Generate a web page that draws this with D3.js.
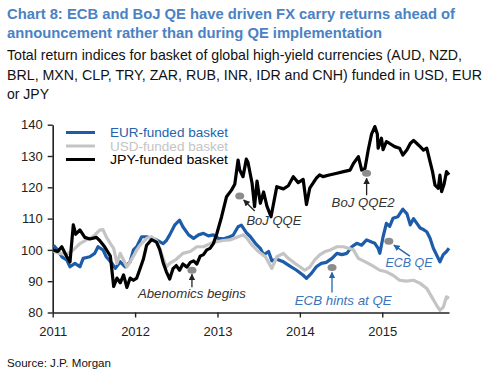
<!DOCTYPE html>
<html><head><meta charset="utf-8">
<script src="https://cdn.jsdelivr.net/npm/d3@7"></script>
<style>
html,body{margin:0;padding:0;background:#fff;}
svg{display:block;font-family:"Liberation Sans",Arial,sans-serif;}
</style></head>
<body><svg id="c" width="488" height="373"></svg>
<script>
const titleLines = ["Chart 8: ECB and BoJ QE have driven FX carry returns ahead of","announcement rather than during QE implementation"];
const subtitleLines = ["Total return indices for basket of global high-yield currencies (AUD, NZD,","BRL, MXN, CLP, TRY, ZAR, RUB, INR, IDR and CNH) funded in USD, EUR","or JPY"];
const seriesNames = ["EUR-funded basket","USD-funded basket","JPY-funded basket"];
const xTicks = [2011,2012,2013,2014,2015];
const yTicks = [80,90,100,110,120,130,140];
const source = "Source: J.P. Morgan";

const eurData = [[2011.01,101.5],[2011.06,100],[2011.11,97.8],[2011.17,96.8],[2011.21,94.6],[2011.27,95.7],[2011.33,94.6],[2011.37,97.3],[2011.45,97.8],[2011.51,98.9],[2011.55,101],[2011.61,100],[2011.65,97.8],[2011.72,95.7],[2011.76,94.1],[2011.82,96.2],[2011.88,94.6],[2011.94,96.2],[2011.98,100],[2012.02,101],[2012.08,104.2],[2012.14,104.2],[2012.20,103.7],[2012.26,103.2],[2012.34,102],[2012.38,103],[2012.42,104.8],[2012.48,107.9],[2012.54,109.5],[2012.58,107.4],[2012.65,104.8],[2012.71,103.7],[2012.77,104.8],[2012.83,105.3],[2012.89,104.5],[2012.95,104.8],[2013.01,103.7],[2013.07,103.5],[2013.13,104],[2013.19,104.7],[2013.25,107.4],[2013.29,107.9],[2013.35,105.5],[2013.40,104.2],[2013.46,102.1],[2013.52,100.5],[2013.56,98.4],[2013.62,99.5],[2013.66,96.5],[2013.72,97],[2013.80,96.2],[2013.88,94.8],[2013.96,93.5],[2014.04,91.9],[2014.08,90.9],[2014.14,92.5],[2014.20,94.6],[2014.26,95.7],[2014.32,96],[2014.39,97.3],[2014.45,98.9],[2014.51,98.5],[2014.57,98.9],[2014.63,101],[2014.69,102.1],[2014.75,101.5],[2014.81,103.2],[2014.87,102.5],[2014.91,102.1],[2014.95,100.5],[2014.97,98.9],[2015.01,104.2],[2015.05,108.5],[2015.09,107.5],[2015.13,110.1],[2015.19,110.6],[2015.25,113],[2015.30,111.5],[2015.34,108],[2015.38,110],[2015.42,108.5],[2015.46,107],[2015.50,106.5],[2015.54,105.8],[2015.58,103.7],[2015.62,100.5],[2015.66,98.4],[2015.70,96.2],[2015.74,98.5],[2015.78,99.5],[2015.81,100.5]];

const usdData = [[2011.01,99.5],[2011.09,98.9],[2011.17,98.5],[2011.25,100],[2011.33,102],[2011.41,103.2],[2011.49,104.2],[2011.57,106.3],[2011.61,106.5],[2011.65,104.2],[2011.70,102],[2011.74,100.5],[2011.78,95.7],[2011.82,98.9],[2011.86,96.8],[2011.90,94.6],[2011.94,96.2],[2011.98,98],[2012.02,100],[2012.06,101.5],[2012.14,103.7],[2012.20,104.2],[2012.26,103],[2012.30,100.5],[2012.34,97.3],[2012.38,94.6],[2012.42,95.7],[2012.50,97],[2012.58,98.9],[2012.67,99.5],[2012.75,101],[2012.83,101],[2012.91,102],[2012.99,102.6],[2013.07,103],[2013.15,103.2],[2013.23,104],[2013.31,104.8],[2013.35,104],[2013.42,101.5],[2013.50,99.4],[2013.58,97.9],[2013.66,94.1],[2013.72,97.8],[2013.80,98.9],[2013.86,97.3],[2013.94,95.7],[2014.00,94.6],[2014.06,93.5],[2014.12,94.5],[2014.18,96.8],[2014.24,98.4],[2014.30,99.4],[2014.37,100],[2014.45,101],[2014.53,101],[2014.59,100.5],[2014.65,100],[2014.71,97.3],[2014.77,96.5],[2014.83,95.7],[2014.89,94.8],[2014.97,93.5],[2015.05,93],[2015.13,91.9],[2015.21,90.3],[2015.29,90],[2015.38,90.3],[2015.46,89.3],[2015.54,87.7],[2015.60,85],[2015.66,82.3],[2015.70,80.7],[2015.74,81.7],[2015.78,85],[2015.81,84.5]];

const jpyData = [[2011.01,100],[2011.06,99.5],[2011.11,101],[2011.17,97.9],[2011.21,96.2],[2011.25,108],[2011.28,105],[2011.33,106.4],[2011.39,104],[2011.45,103.5],[2011.53,104],[2011.57,103],[2011.63,101],[2011.70,98],[2011.74,88.3],[2011.78,91],[2011.82,89.5],[2011.86,92],[2011.90,88],[2011.94,91],[2011.98,90.3],[2012.02,91],[2012.06,94],[2012.10,97],[2012.14,101.5],[2012.20,103.3],[2012.26,102.5],[2012.30,100],[2012.34,96],[2012.38,93],[2012.42,90.7],[2012.46,94],[2012.50,95],[2012.54,93.5],[2012.58,95.5],[2012.63,94.5],[2012.67,96],[2012.71,96.5],[2012.75,95.5],[2012.79,98],[2012.83,98.5],[2012.87,100],[2012.91,100.5],[2012.95,102],[2012.99,105],[2013.05,110.6],[2013.11,117],[2013.17,119.1],[2013.21,121],[2013.25,128.7],[2013.27,125.5],[2013.31,123.4],[2013.35,129],[2013.37,128],[2013.42,121.3],[2013.45,113.8],[2013.48,122],[2013.52,114.9],[2013.56,118.5],[2013.60,114],[2013.65,110.6],[2013.72,120.2],[2013.80,119.5],[2013.86,120.5],[2013.92,123.4],[2013.98,121.5],[2014.04,122.5],[2014.08,114.5],[2014.12,119.7],[2014.20,122.9],[2014.24,124],[2014.28,123.4],[2014.37,124],[2014.45,124.5],[2014.53,125],[2014.61,125.5],[2014.65,127.6],[2014.71,129.8],[2014.75,125.5],[2014.79,126],[2014.83,132],[2014.87,137],[2014.91,139.4],[2014.94,137],[2014.95,132.5],[2014.99,135.7],[2015.01,132],[2015.05,134.6],[2015.09,134],[2015.15,133],[2015.21,132.5],[2015.25,130.3],[2015.30,132],[2015.34,134],[2015.38,135],[2015.42,134],[2015.46,133],[2015.50,131.9],[2015.54,132.5],[2015.58,128.2],[2015.61,125],[2015.64,120.7],[2015.68,119.7],[2015.70,123.9],[2015.72,118.6],[2015.75,121],[2015.78,125],[2015.81,124]];

const eventLabels = ["Abenomics begins","BoJ QQE","BoJ QQE2","ECB hints at QE","ECB QE"];
const eventYears = [2012.69,2013.27,2014.81,2014.39,2015.08];
const eventValues = [93.5,117.2,124.5,94.4,102.8];

// ---------- drawing ----------
const svg = d3.select("#c");
const x = d3.scaleLinear().domain([2011, 2015.81]).range([52.7, 449]);
const y = d3.scaleLinear().domain([80, 140]).range([312.5, 124.7]);

const colors = ["#1c5ca8", "#c4c4c4", "#000000"];
const titleColor = "#4a82c3";
const narrow = "'Liberation Sans Narrow','Arial Narrow','Liberation Sans',Arial,sans-serif";

// fit a text to a target width: shrink font if natural width is too large, then stretch/condense exactly
function fitText(sel, w){
  const node = sel.node();
  let len = node.getComputedTextLength();
  if (len > w * 1.02) {
    const fs = parseFloat(sel.attr("font-size"));
    sel.attr("font-size", (fs * w / len).toFixed(2));
  }
  sel.attr("textLength", w).attr("lengthAdjust","spacingAndGlyphs");
}

// title
const tW = [448, 375];
titleLines.forEach((t,i)=>{
  svg.append("text").attr("x",7).attr("y",18.5+i*19).attr("fill",titleColor)
    .attr("font-family",narrow).attr("font-size",18.5).attr("font-weight","bold").text(t).call(fitText, tW[i]);
});
const sW = [455, 475, 42];
subtitleLines.forEach((t,i)=>{
  svg.append("text").attr("x",7).attr("y",[60,80,99][i]).attr("fill","#111")
    .attr("font-family",narrow).attr("font-size",16).text(t).call(fitText, sW[i]);
});

// axes
const yAxis = d3.axisLeft(y).tickValues(yTicks).tickSize(5).tickSizeOuter(0).tickPadding(5).tickFormat(d3.format("d"));
const gy = svg.append("g").attr("transform",`translate(${x.range()[0]},0)`).call(yAxis);
const xAxis = d3.axisBottom(x).tickValues(xTicks).tickSize(5).tickSizeOuter(0).tickPadding(9).tickFormat(d3.format("d"));
const gx = svg.append("g").attr("transform",`translate(0,${y(80)})`).call(xAxis);
[gx,gy].forEach(g=>{
  g.select(".domain").attr("stroke","#222").attr("stroke-width",1.6);
  g.selectAll(".tick line").attr("stroke","#222").attr("stroke-width",1.4);
  g.selectAll(".tick text").attr("fill","#222").attr("font-size",13).attr("font-family","Liberation Sans, Arial, sans-serif");
});

// lines
const line = d3.line().x(d=>x(d[0])).y(d=>y(d[1])).curve(d3.curveLinear);
[eurData, usdData, jpyData].forEach((data,i)=>{
  svg.append("path").datum(data).attr("fill","none").attr("stroke",colors[i])
    .attr("stroke-width",3.2).attr("stroke-linejoin","round").attr("d",line);
});

// legend
seriesNames.forEach((n,i)=>{
  const yy = 132.5 + i*13.5;
  svg.append("line").attr("x1",66).attr("x2",95).attr("y1",yy).attr("y2",yy)
    .attr("stroke",colors[i]).attr("stroke-width",3);
  svg.append("text").attr("x",110).attr("y",yy+4.5).attr("font-size",13)
    .attr("fill", i===0?"#2463ad":(i===1?"#c4c4c4":"#000")).text(n).call(fitText,118);
});

// annotations
const defs = svg.append("defs");
["#222","#2463ad"].forEach((c,i)=>{
  defs.append("marker").attr("id","ah"+i).attr("viewBox","0 0 10 10").attr("refX",9).attr("refY",5)
    .attr("markerWidth",5).attr("markerHeight",5).attr("orient","auto-start-reverse")
    .append("path").attr("d","M0,0L10,5L0,10z").attr("fill",c);
});
const layout = [
  {a:[0,17], b:[0,4], t:[-54,27.5], c:0, tw:108},
  {a:[15,15], b:[4,4], t:[6.7,28.5], c:0, tw:55},
  {a:[0,22], b:[0,5], t:[-35,33.7], c:0, tw:63},
  {a:[0,25], b:[0,5], t:[-37.3,37.7], c:1, tw:97},
  {a:[21,15], b:[5,4], t:[-3.3,26], c:1, tw:47}
];
eventLabels.forEach((lab,i)=>{
  const px = x(eventYears[i]), py = y(eventValues[i]);
  const L = layout[i];
  svg.append("ellipse").attr("cx",px).attr("cy",py).attr("rx",4.5).attr("ry",3.5).attr("fill","#8c8c8c");
  svg.append("line").attr("x1",px+L.a[0]).attr("y1",py+L.a[1]).attr("x2",px+L.b[0]).attr("y2",py+L.b[1])
    .attr("stroke",L.c?"#2463ad":"#222").attr("stroke-width",1.3).attr("marker-end",`url(#ah${L.c})`);
  svg.append("text").attr("x",px+L.t[0]).attr("y",py+L.t[1]).attr("font-size",13).attr("font-style","italic")
    .attr("fill",L.c?"#3a74bb":"#333").text(lab).call(fitText,L.tw);
});

svg.append("text").attr("x",7).attr("y",366.5).attr("font-size",12).attr("fill","#111").text(source).call(fitText,104);
</script></body></html>
